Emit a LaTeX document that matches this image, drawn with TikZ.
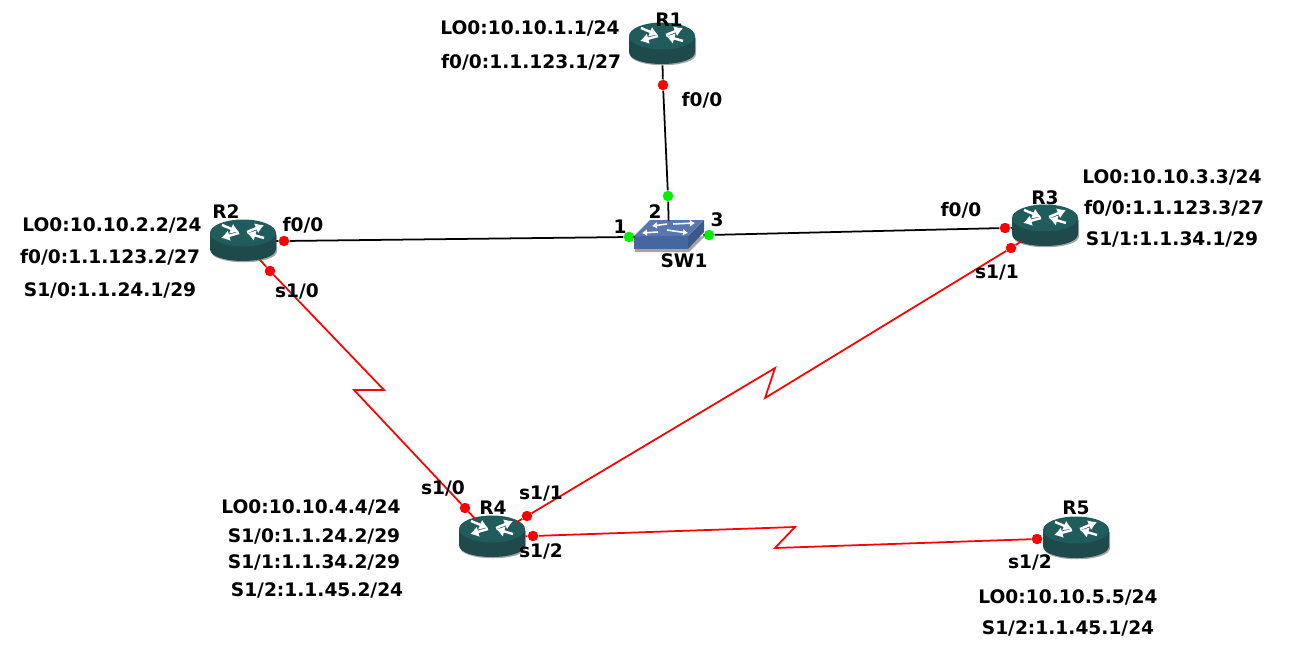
\documentclass[tikz,border=0pt]{standalone}
\usepackage{fontspec}
\setmainfont{DejaVu Sans}
\usetikzlibrary{shapes.geometric, arrows.meta}
\definecolor{RtTop}{RGB}{32,92,92}
\definecolor{RtSide}{RGB}{30,74,76}
\definecolor{RtShade}{RGB}{165,165,165}
\definecolor{SwTop}{RGB}{88,118,176}
\definecolor{SwFront}{RGB}{70,102,160}
\definecolor{SwSide}{RGB}{58,88,140}
\definecolor{PortRed}{RGB}{255,0,0}
\definecolor{PortGreen}{RGB}{0,240,0}
\tikzset{
  routernode/.style={ellipse, minimum width=1.32cm, minimum height=.84cm, inner sep=0pt},
  swnode/.style={rectangle, minimum width=1.4cm, minimum height=.6cm, inner sep=0pt},
  reddot/.style={circle, fill=PortRed, minimum size=.21cm, inner sep=0pt},
  greendot/.style={circle, fill=PortGreen, minimum size=.21cm, inner sep=0pt},
  lbl/.style={font=\bfseries\fontsize{10.6}{12}\selectfont, inner sep=0pt, text=black, yshift=-.02cm},
  ethline/.style={black, line width=1pt},
  serline/.style={PortRed, line width=1pt},
  routerpic/.pic={
    \fill[RtShade] (-32,-6) -- (-32,10) .. controls (-32,25) and (34,25) .. (34,10) -- (34,-6) -- cycle;
    \fill[RtSide] (-33,-8) -- (-33,8) .. controls (-33,24) and (33,24) .. (33,8) -- (33,-8) -- cycle;
    \fill[RtTop] (0,-8) ellipse [x radius=.66cm, y radius=.27cm];
    \foreach \ax/\ay/\bx/\by in {-21/-16/-4/-9, 21/-3/4/-8, 4/-9/21/-16, -4/-8/-22/-3}
      \draw[white, line width=1.4pt, -{Latex[length=.17cm,width=.22cm]}] (\ax,\ay) -- (\bx,\by);
  },
  swpic/.pic={
    \fill[RtShade] (-34,6) -- (-34,16) -- (20,16) -- (36,0) -- cycle;
    \fill[SwFront] (-35,0) -- (19,0) -- (19,13) -- (-35,13) -- cycle;
    \fill[SwSide] (19,0) -- (35,-16) -- (35,-4) -- (19,13) -- cycle;
    \fill[SwTop] (-35,0) -- (-19,-16) -- (35,-16) -- (19,0) -- cycle;
    \foreach \ax/\ay/\bx/\by in {-2/-12/-17/-10, 4/-12/26/-13, -11/-4/-27/-3, -2/-6/19/-3}
      \draw[white, line width=.9pt, -{Latex[length=.1cm,width=.14cm]}] (\ax,\ay) -- (\bx,\by);
  }
}
\newcommand{\router}[3]{%
  \pic at (#2,#3) {routerpic};
  \node[routernode] (#1) at (#2,#3) {};
}
\begin{document}
\begin{tikzpicture}[x=0.02cm, y=-0.02cm]
  \useasboundingbox (0,0) rectangle (1290,645);
  \router{R1}{662}{44}
  \router{R2}{243}{241}
  \router{R3}{1045}{226}
  \router{R4}{492}{537}
  \router{R5}{1076}{538}
  \pic at (669,236) {swpic};
  \node[swnode] (SW1) at (669,236) {};

  % ports
  \node[reddot] (R1f) at (663,85) {};
  \node[reddot] (R2f) at (284,241) {};
  \node[reddot] (R2s) at (270,271) {};
  \node[reddot] (R3f) at (1005,228) {};
  \node[reddot] (R3s) at (1011,248) {};
  \node[reddot] (R4a) at (465,508) {};
  \node[reddot] (R4b) at (527,516) {};
  \node[reddot] (R4c) at (533,536) {};
  \node[reddot] (R5s) at (1037,539) {};
  \node[greendot] (SW1a) at (629,237) {};
  \node[greendot] (SW1b) at (668,196) {};
  \node[greendot] (SW1c) at (709,235) {};

  % zigzag corners
  \coordinate (k1) at (384,390);
  \coordinate (k2) at (354,390);
  \coordinate (k3) at (765,398);
  \coordinate (k4) at (775,368);
  \coordinate (k5) at (795,527);
  \coordinate (k6) at (775,548);

  % links
  \draw[ethline] (R1) -- (R1f) -- (SW1b) -- (SW1);
  \draw[ethline] (R2) -- (R2f) -- (SW1a) -- (SW1);
  \draw[ethline] (R3) -- (R3f) -- (SW1c) -- (SW1);
  \draw[serline] (R2) -- (R2s) -- (k1) -- (k2) -- (R4a) -- (R4);
  \draw[serline] (R3) -- (R3s) -- (k3) -- (k4) -- (R4b) -- (R4);
  \draw[serline] (R4) -- (R4c) -- (k5) -- (k6) -- (R5s) -- (R5);

  % names
  \node[lbl] (nR1) at (669,19) {R1};
  \node[lbl] (nR2) at (226,211) {R2};
  \node[lbl] (nR3) at (1045,197) {R3};
  \node[lbl] (nR4) at (493,507) {R4};
  \node[lbl] (nR5) at (1076,507) {R5};
  \node[lbl] (nSW) at (684,260) {SW1};

  % port labels
  \node[lbl] (pR1) at (702,99) {f0/0};
  \node[lbl] (pR2f) at (303,224) {f0/0};
  \node[lbl] (pR2s) at (297,290) {s1/0};
  \node[lbl] (pR3f) at (961,209) {f0/0};
  \node[lbl] (pR3s) at (997,272) {s1/1};
  \node[lbl] (pR4a) at (443,487) {s1/0};
  \node[lbl] (pR4b) at (541,493) {s1/1};
  \node[lbl] (pR4c) at (541,550) {s1/2};
  \node[lbl] (pR5) at (1030,561) {s1/2};
  \node[lbl] (pSa) at (620,226) {1};
  \node[lbl] (pSb) at (655,211) {2};
  \node[lbl] (pSc) at (717,219) {3};

  % addresses
  \node[lbl] (aR1a) at (530,27) {LO0:10.10.1.1/24};
  \node[lbl] (aR1b) at (531,61) {f0/0:1.1.123.1/27};
  \node[lbl] (aR2a) at (112,224) {LO0:10.10.2.2/24};
  \node[lbl] (aR2b) at (110,256) {f0/0:1.1.123.2/27};
  \node[lbl] (aR2c) at (110,289) {S1/0:1.1.24.1/29};
  \node[lbl] (aR3a) at (1172,176) {LO0:10.10.3.3/24};
  \node[lbl] (aR3b) at (1174,207) {f0/0:1.1.123.3/27};
  \node[lbl] (aR3c) at (1172,238) {S1/1:1.1.34.1/29};
  \node[lbl] (aR4a) at (311,506) {LO0:10.10.4.4/24};
  \node[lbl] (aR4b) at (314,535) {S1/0:1.1.24.2/29};
  \node[lbl] (aR4c) at (314,561) {S1/1:1.1.34.2/29};
  \node[lbl] (aR4d) at (317,589) {S1/2:1.1.45.2/24};
  \node[lbl] (aR5a) at (1068,596) {LO0:10.10.5.5/24};
  \node[lbl] (aR5b) at (1068,627) {S1/2:1.1.45.1/24};
\end{tikzpicture}
\end{document}
